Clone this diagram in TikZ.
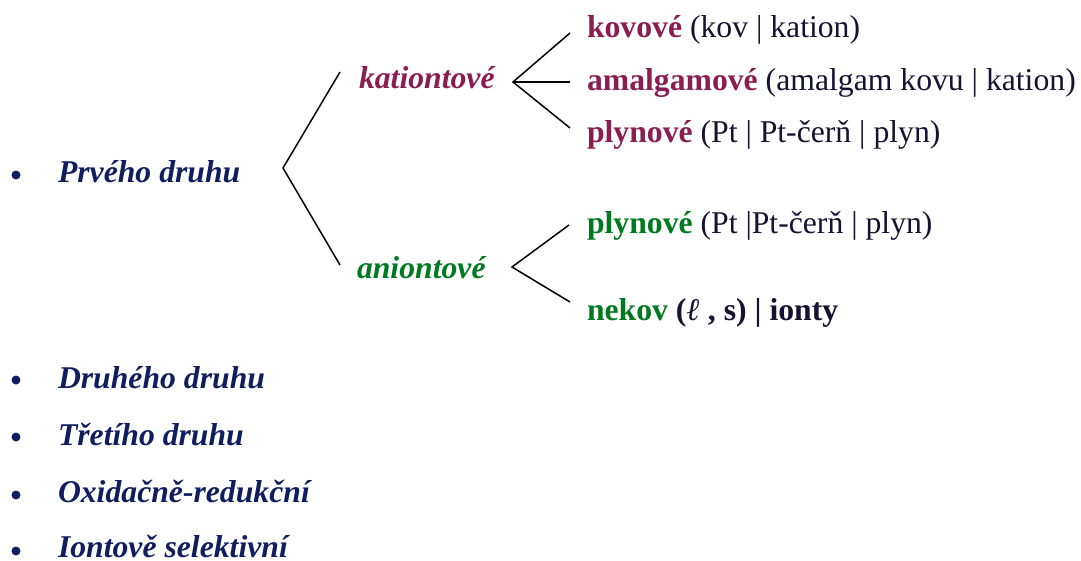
\documentclass[tikz,border=0pt]{standalone}
\usepackage{fontspec}
\setmainfont{Liberation Serif}
\definecolor{navy}{RGB}{16,30,96}
\definecolor{maroon}{RGB}{138,30,82}
\definecolor{leaf}{RGB}{0,122,30}
\definecolor{ink}{RGB}{20,20,50}
\begin{document}
\begin{tikzpicture}[x=1pt,y=-1pt,
  txt/.style={anchor=base west,inner sep=0pt,outer sep=0pt,font=\fontsize{31.7}{37}\selectfont},
  head/.style={txt,text=navy,font=\fontsize{31.7}{37}\selectfont\bfseries\itshape},
  kat/.style={txt,text=maroon,font=\fontsize{31.7}{37}\selectfont\bfseries\itshape},
  ani/.style={txt,text=leaf,font=\fontsize{31.7}{37}\selectfont\bfseries\itshape},
  dot/.style={circle,fill=navy,inner sep=0pt,minimum size=9pt},
  br/.style={draw=black,line width=1.5pt,line join=miter}]
\useasboundingbox (0,0) rectangle (1081,560);
% bullet list
\node[head] (p1) at (58,182) {Prvého druhu};
\node[head] (p2) at (58,388) {Druhého druhu};
\node[head] (p3) at (58,445) {Třetího druhu};
\node[head] (p4) at (58,502) {Oxidačně-redukční};
\node[head] (p5) at (58,557) {Iontově selektivní};
\node[dot] (d1) at (16,175) {};
\node[dot] (d2) at (16,380) {};
\node[dot] (d3) at (16,437) {};
\node[dot] (d4) at (16,495) {};
\node[dot] (d5) at (16,551) {};
% second level
\node[kat] (kt) at (359,88) {kationtové};
\node[ani] (an) at (357,278) {aniontové};
% third level
\node[txt] (k1) at (587,37) {\textcolor{maroon}{\bfseries kovové} \textcolor{ink}{(kov | kation)}};
\node[txt] (k2) at (587,90) {\textcolor{maroon}{\bfseries amalgamové} \textcolor{ink}{(amalgam kovu | kation)}};
\node[txt] (k3) at (587,142) {\textcolor{maroon}{\bfseries plynové} \textcolor{ink}{(Pt | Pt-čerň | plyn)}};
\node[txt] (a1) at (587,233) {\textcolor{leaf}{\bfseries plynové} \textcolor{ink}{(Pt |Pt-čerň | plyn)}};
\node[txt] (a2) at (587,320) {\bfseries\textcolor{leaf}{nekov} \textcolor{ink}{(\textit{ℓ} , s) | ionty}};
% brackets
\coordinate (v0) at (283,168);
\coordinate (e0a) at (340,72);
\coordinate (e0b) at (340,265);
\draw[br] (e0a) -- (v0) -- (e0b);
\coordinate (v1) at (513,82);
\coordinate (e1a) at (570,33);
\coordinate (e1b) at (570,82);
\coordinate (e1c) at (570,128);
\draw[br] (e1a) -- (v1) -- (e1c);
\draw[br] (v1) -- (e1b);
\coordinate (v2) at (512,267);
\coordinate (e2a) at (569,225);
\coordinate (e2b) at (570,302);
\draw[br] (e2a) -- (v2) -- (e2b);
\end{tikzpicture}
\end{document}
